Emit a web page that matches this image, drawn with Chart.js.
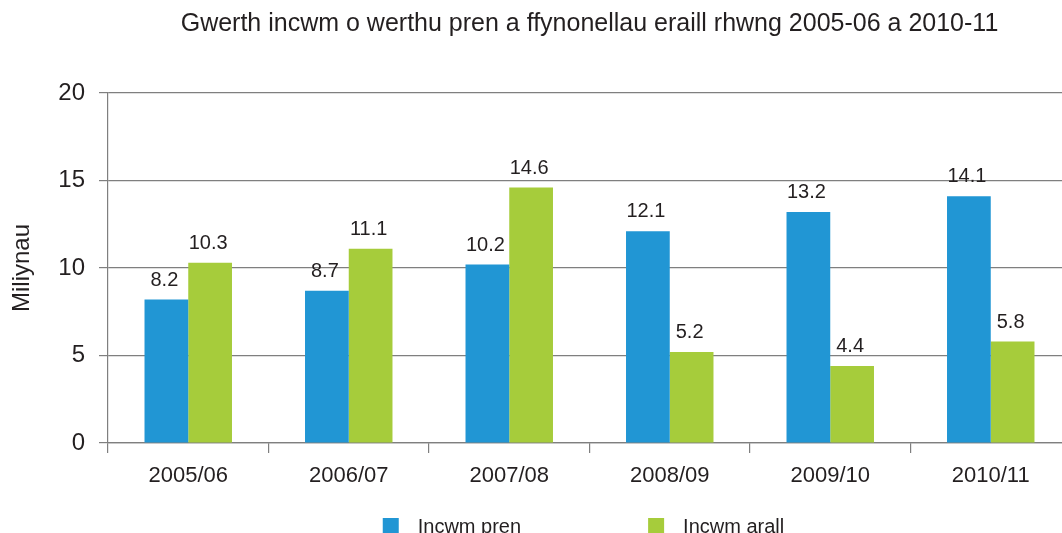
<!DOCTYPE html>
<html lang="cy">
<head>
    <meta charset="UTF-8">
    <title>Gwerth incwm o werthu pren</title>
    <script src="https://cdn.jsdelivr.net/npm/chart.js"></script>
    <style>
        html, body {
            margin: 0;
            padding: 0;
            background: #ffffff;
            overflow: hidden;
        }
        #wrap {
            position: relative;
            width: 1071px;
            height: 533px;
        }
    </style>
</head>
<body>

<div id="wrap">
    <canvas id="incwmChart" width="1071" height="533"></canvas>
</div>

<script>
    const teitl = 'Gwerth incwm o werthu pren a ffynonellau eraill rhwng 2005-06 a 2010-11';
    const blynyddoedd = ['2005/06', '2006/07', '2007/08', '2008/09', '2009/10', '2010/11'];
    const enwauCyfres = ['Incwm pren', 'Incwm arall'];
    const incwmPren = [8.2, 8.7, 10.2, 12.1, 13.2, 14.1];
    const incwmArall = [10.3, 11.1, 14.6, 5.2, 4.4, 5.8];
    const ticiauY = [0, 5, 10, 15, 20];

    const ffont = '"Liberation Sans", Arial, sans-serif';
    const lliwTestun = '#231f20';
    const lliwGrid = '#7f7f7f';
    const glas = '#2196d4';
    const gwyrdd = '#a6cc3b';

    Chart.defaults.font.family = ffont;
    Chart.defaults.color = lliwTestun;

    // gwerthoedd uwchben y barrau
    const labelauGwerth = {
        id: 'labelauGwerth',
        afterDatasetsDraw(chart) {
            const ctx = chart.ctx;
            ctx.save();
            ctx.font = '20px ' + ffont;
            ctx.fillStyle = lliwTestun;
            ctx.textAlign = 'center';
            ctx.textBaseline = 'alphabetic';
            chart.data.datasets.forEach((ds, i) => {
                chart.getDatasetMeta(i).data.forEach((bar, j) => {
                    ctx.fillText(ds.data[j].toFixed(1), bar.x - 2, bar.y - 14);
                });
            });
            ctx.restore();
        }
    };

    // allwedd ar y gwaelod, bylchau llydan fel yn y gwreiddiol
    const allwedd = {
        id: 'allwedd',
        afterDraw(chart) {
            const ctx = chart.ctx;
            const bocs = 16, bwlch = 19, rhwng = 127;
            ctx.save();
            ctx.font = '20px ' + ffont;
            ctx.textBaseline = 'alphabetic';
            ctx.textAlign = 'left';
            const eitemau = chart.data.datasets.map(ds => ({
                testun: ds.label,
                lliw: ds.backgroundColor,
                lled: bocs + bwlch + ctx.measureText(ds.label).width
            }));
            const cyfanswm = eitemau.reduce((s, e) => s + e.lled, 0) + rhwng * (eitemau.length - 1);
            const canol = (chart.chartArea.left + chart.chartArea.right) / 2 - 6;
            let x = canol - cyfanswm / 2;
            const yLlinell = chart.height;
            eitemau.forEach(e => {
                ctx.fillStyle = e.lliw;
                ctx.fillRect(x, yLlinell - 15, bocs, bocs);
                ctx.fillStyle = lliwTestun;
                ctx.fillText(e.testun, x + bocs + bwlch, yLlinell);
                x += e.lled + rhwng;
            });
            ctx.restore();
        }
    };

    const ctx = document.getElementById('incwmChart').getContext('2d');
    new Chart(ctx, {
        type: 'bar',
        data: {
            labels: blynyddoedd,
            datasets: [
                {
                    label: enwauCyfres[0],
                    data: incwmPren,
                    backgroundColor: glas,
                    categoryPercentage: 0.545,
                    barPercentage: 1.0
                },
                {
                    label: enwauCyfres[1],
                    data: incwmArall,
                    backgroundColor: gwyrdd,
                    categoryPercentage: 0.545,
                    barPercentage: 1.0
                }
            ]
        },
        options: {
            responsive: false,
            animation: false,
            layout: {
                padding: { left: 0, right: 0, top: 0, bottom: 34 }
            },
            scales: {
                x: {
                    afterFit: s => { s.height = 56; },
                    grid: {
                        offset: true,
                        drawOnChartArea: false,
                        drawTicks: true,
                        tickLength: 10,
                        color: lliwGrid,
                        lineWidth: 1.2
                    },
                    border: { display: true, color: lliwGrid, width: 1.2 },
                    ticks: {
                        padding: 10,
                        color: lliwTestun,
                        font: { size: 22 }
                    }
                },
                y: {
                    min: 0,
                    max: 20,
                    afterFit: s => { s.width = 108; },
                    afterBuildTicks: s => { s.ticks = ticiauY.map(v => ({ value: v })); },
                    grid: {
                        color: lliwGrid,
                        lineWidth: 1.2,
                        tickLength: 9
                    },
                    border: { display: true, color: lliwGrid, width: 1.2 },
                    ticks: {
                        padding: 14,
                        color: lliwTestun,
                        font: { size: 24 }
                    },
                    title: {
                        display: true,
                        text: 'Miliynau',
                        color: lliwTestun,
                        font: { size: 24 },
                        padding: { top: 8, bottom: 0 }
                    }
                }
            },
            plugins: {
                title: {
                    display: true,
                    text: teitl,
                    fullSize: false,
                    color: lliwTestun,
                    font: { size: 25, weight: 'normal' },
                    padding: { top: 9, bottom: 54 }
                },
                legend: { display: false },
                tooltip: { enabled: false }
            }
        },
        plugins: [labelauGwerth, allwedd]
    });
</script>

</body>
</html>
